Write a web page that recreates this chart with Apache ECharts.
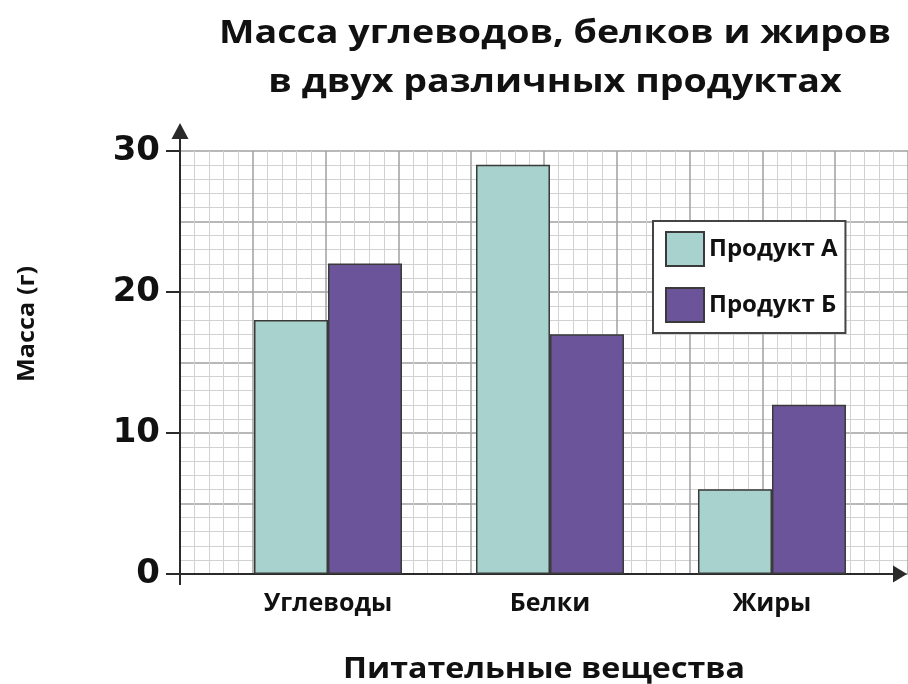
<!DOCTYPE html>
<html><head><meta charset="utf-8">
<script src="https://cdn.jsdelivr.net/npm/echarts@6/dist/echarts.min.js"></script>
<style>html,body{margin:0;padding:0;background:#fff}#c{width:908px;height:684px}</style>
</head><body><div id="c"></div>
<script>
const categories = ['Углеводы', 'Белки', 'Жиры'];
const seriesNames = ['Продукт А', 'Продукт Б'];
const productA = [18, 29, 6];
const productB = [22, 17, 12];
const yTickValues = [0, 10, 20, 30];
const titleText = 'Масса углеводов, белков и жиров\nв двух различных продуктах';
const xName = 'Питательные вещества';
const yName = 'Масса (г)';

// category centre positions on the grid scale (each major cell = 1 unit)
const catPos = categories.map((c, i) => 2 + 3 * i);

const colorA = '#a8d2cd';
const colorB = '#6c549a';
const edge = '#3a3a3a';
const font = 'Open Sans';

const chart = echarts.init(document.getElementById('c'), null, {renderer: 'canvas'});
chart.setOption({
  backgroundColor: '#ffffff',
  animation: false,
  grid: [
    {left: 180, right: -12, top: 151, bottom: 110},
    {left: 180, right: 8, top: 131, bottom: 110}
  ],
  xAxis: [
    {
      gridIndex: 0, type: 'value', min: 0, max: 10, interval: 1,
      axisLine: {show: false}, axisTick: {show: false}, axisLabel: {show: false},
      splitLine: {show: true, lineStyle: {color: '#a0a0a0', width: 1.5}},
      minorTick: {show: false, splitNumber: 5},
      minorSplitLine: {show: true, lineStyle: {color: '#d2d2d2', width: 1}}
    },
    {
      gridIndex: 1, type: 'value', min: 0, max: 9.73,
      splitLine: {show: false},
      axisLine: {show: true, onZero: true, symbol: ['none', 'triangle'], symbolSize: [17, 14],
        lineStyle: {color: '#2a2a2a', width: 2}},
      axisTick: {show: true, customValues: [0], length: 11, lineStyle: {color: '#2a2a2a', width: 2}},
      axisLabel: {
        show: true, customValues: catPos, margin: 17,
        formatter: v => { const i = catPos.indexOf(v); return i >= 0 ? categories[i] : ''; },
        fontFamily: font, fontWeight: 'bold', fontSize: 25, color: '#111'
      }
    }
  ],
  yAxis: [
    {
      gridIndex: 0, type: 'value', min: 0, max: 30, interval: 5,
      axisLine: {show: false}, axisTick: {show: false}, axisLabel: {show: false},
      splitLine: {show: true, lineStyle: {color: '#a0a0a0', width: 1.5}},
      minorTick: {show: false, splitNumber: 5},
      minorSplitLine: {show: true, lineStyle: {color: '#d2d2d2', width: 1}}
    },
    {
      gridIndex: 1, type: 'value', min: 0, max: 31.4,
      splitLine: {show: false},
      axisLine: {show: true, symbol: ['none', 'triangle'], symbolSize: [17, 16],
        lineStyle: {color: '#2a2a2a', width: 2}},
      axisTick: {show: true, customValues: yTickValues, length: 14, lineStyle: {color: '#2a2a2a', width: 2}},
      axisLabel: {
        show: true, customValues: yTickValues, margin: 20,
        fontFamily: 'DejaVu Sans', fontWeight: 'bold', fontSize: 34, color: '#111'
      }
    }
  ],
  legend: {
    orient: 'vertical', left: 653, top: 221,
    itemWidth: 38, itemHeight: 34, itemGap: 20,
    padding: [10, 8, 10, 12],
    backgroundColor: '#fff', borderColor: '#444', borderWidth: 2,
    icon: 'rect',
    textStyle: {fontFamily: font, fontWeight: 'bold', fontSize: 24, color: '#111'},
    data: seriesNames
  },
  series: [
    {
      name: seriesNames[0], type: 'bar', xAxisIndex: 1, yAxisIndex: 1,
      barWidth: 74, barGap: '0%',
      itemStyle: {color: colorA, borderColor: edge, borderWidth: 1.5},
      data: productA.map((v, i) => [catPos[i], v])
    },
    {
      name: seriesNames[1], type: 'bar', xAxisIndex: 1, yAxisIndex: 1,
      barWidth: 74, barGap: '0%',
      itemStyle: {color: colorB, borderColor: edge, borderWidth: 1.5},
      data: productB.map((v, i) => [catPos[i], v])
    }
  ],
  graphic: [
    {type: 'text', x: 555, y: 9, scaleX: 1.14, style: {text: titleText, textAlign: 'center', textVerticalAlign: 'top',
      font: 'bold 33px "Open Sans"', lineHeight: 49, fill: '#111'}},
    {type: 'text', x: 544, y: 670, scaleX: 1.11, style: {text: xName, textAlign: 'center', textVerticalAlign: 'middle',
      font: 'bold 29px "Open Sans"', fill: '#111'}},
    {type: 'text', x: 27, y: 324, rotation: Math.PI / 2, scaleX: 1.1, style: {text: yName, textAlign: 'center', textVerticalAlign: 'middle',
      font: 'bold 23px "Open Sans"', fill: '#111'}}
  ]
});
</script></body></html>
